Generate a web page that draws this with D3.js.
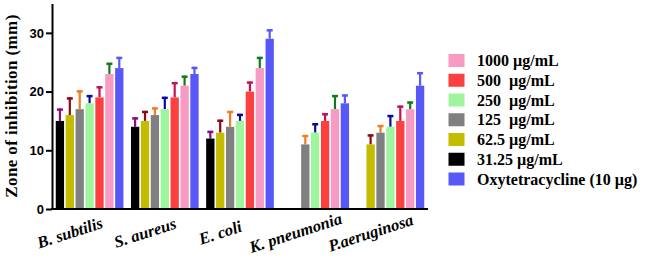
<!DOCTYPE html>
<html>
<head>
<meta charset="utf-8">
<script src="https://cdn.jsdelivr.net/npm/d3@7"></script>
<style>
  html, body { margin: 0; padding: 0; background: #fff; }
  svg { display: block; }
</style>
</head>
<body>
<svg id="chart" width="648" height="271"></svg>
<script>
// ---- data ----
const categories = ["B. subtilis", "S. aureus", "E. coli", "K. pneumonia", "P.aeruginosa"];
const seriesNames = ["31.25 µg/mL", "62.5 µg/mL", "125  µg/mL", "250  µg/mL", "500  µg/mL", "1000 µg/mL", "Oxytetracycline (10 µg)"];
// values per series, in category order (null = not measured)
const s31 = [15, 14, 12, null, null];
const s62 = [16, 15, 13, null, 11];
const s125 = [17, 16, 14, 11, 13];
const s250 = [18, 17, 15, 13, 14];
const s500 = [19, 19, 20, 15, 15];
const s1000 = [23, 21, 24, 17, 17];
const sOxy = [24, 23, 29, 18, 21];
// error (SD) per series
const e31 = [2.1, 1.6, 1.3, null, null];
const e62 = [3.0, 1.7, 2.2, null, 1.7];
const e125 = [3.2, 1.3, 2.7, 1.6, 1.3];
const e250 = [1.4, 2.1, 1.2, 1.6, 2.0];
const e500 = [1.9, 2.6, 1.7, 1.3, 2.6];
const e1000 = [1.9, 1.7, 1.9, 2.4, 1.3];
const eOxy = [1.9, 1.2, 1.6, 1.5, 2.3];
const yTicks = [0, 10, 20, 30];
const legendOrder = [5, 4, 3, 2, 1, 0, 6];

// ---- styles ----
const barColors = ["#000000", "#c4bc00", "#808080", "#9ef59e", "#fb4040", "#f79ac4", "#5858f6"];
const errColors = ["#8a0a8a", "#8b0a14", "#f07c1e", "#0a0aa0", "#c01454", "#127a1a", "#5858f6"];

const values = [s31, s62, s125, s250, s500, s1000, sOxy];
const errors = [e31, e62, e125, e250, e500, e1000, eOxy];

const svg = d3.select("#chart");
const mLeft = 52, mRight = 428, mTop = 3.5, mBottom = 209;

const x0 = d3.scaleBand().domain(categories).range([mLeft, mRight]).paddingInner(0.1).paddingOuter(0.05);
const x1 = d3.scaleBand().domain(d3.range(seriesNames.length)).range([0, x0.bandwidth()]).paddingInner(0.16).paddingOuter(0);
const y = d3.scaleLinear().domain([0, 35]).range([mBottom, mTop]);

const flat = [];
categories.forEach((c, ci) => {
  values.forEach((arr, si) => {
    if (arr[ci] != null) flat.push({ c, si, v: arr[ci], e: errors[si][ci] });
  });
});

// error bars (behind bars)
const eg = svg.append("g");
flat.forEach(d => {
  const cx = x0(d.c) + x1(d.si) + x1.bandwidth() / 2;
  eg.append("line").attr("x1", cx).attr("x2", cx)
    .attr("y1", y(d.v)).attr("y2", y(d.v + d.e))
    .attr("stroke", errColors[d.si]).attr("stroke-width", 2.2);
  eg.append("line").attr("x1", cx - 3).attr("x2", cx + 3)
    .attr("y1", y(d.v + d.e) + 1).attr("y2", y(d.v + d.e) + 1)
    .attr("stroke", errColors[d.si]).attr("stroke-width", 2.5);
});

svg.append("g").selectAll("rect").data(flat).join("rect")
  .attr("x", d => x0(d.c) + x1(d.si))
  .attr("width", x1.bandwidth())
  .attr("y", d => y(d.v))
  .attr("height", d => y(0) - y(d.v))
  .attr("fill", d => barColors[d.si]);

// y axis
const ya = svg.append("g").attr("transform", `translate(${mLeft},0)`)
  .call(d3.axisLeft(y).tickValues(yTicks).tickSize(6).tickPadding(2).tickSizeOuter(0));
ya.select(".domain").attr("stroke", "#000").attr("stroke-width", 2);
ya.selectAll(".tick line").attr("stroke", "#000").attr("stroke-width", 2);
ya.selectAll(".tick text").attr("font-family", "Liberation Sans, Arial, sans-serif")
  .attr("font-weight", "bold").attr("font-size", 13).attr("fill", "#000");

// x axis line
svg.append("line").attr("x1", mLeft - 1).attr("x2", mRight).attr("y1", mBottom).attr("y2", mBottom)
  .attr("stroke", "#000").attr("stroke-width", 2);

// x labels
svg.append("g").selectAll("text").data(categories).join("text")
  .attr("transform", d => `translate(${x0(d) + x0.bandwidth() / 2 - 18},238) rotate(-18)`)
  .attr("text-anchor", "middle")
  .attr("font-family", "Liberation Serif, Times New Roman, serif")
  .attr("font-style", "italic").attr("font-weight", "bold").attr("font-size", 16.5)
  .attr("fill", "#000")
  .text(d => d);

// y label
svg.append("text")
  .attr("transform", `translate(17,106) rotate(-90)`)
  .attr("text-anchor", "middle")
  .attr("font-family", "Liberation Serif, Times New Roman, serif")
  .attr("font-weight", "bold").attr("font-size", 17).attr("letter-spacing", 0.4)
  .attr("fill", "#000")
  .text("Zone of inhibition (mm)");

// legend
const lg = svg.append("g");
legendOrder.forEach((si, i) => {
  const yy = 60.5 + i * 19.75;
  lg.append("rect").attr("x", 448.5).attr("y", yy - 6.5).attr("width", 16).attr("height", 13)
    .attr("fill", barColors[si]);
  lg.append("text").attr("x", 477).attr("y", yy + 5.5)
    .attr("font-family", "Liberation Serif, Times New Roman, serif")
    .attr("font-weight", "bold").attr("font-size", 16).attr("fill", "#000")
    .attr("xml:space", "preserve").style("white-space", "pre")
    .text(seriesNames[si]);
});
</script>
</body>
</html>
